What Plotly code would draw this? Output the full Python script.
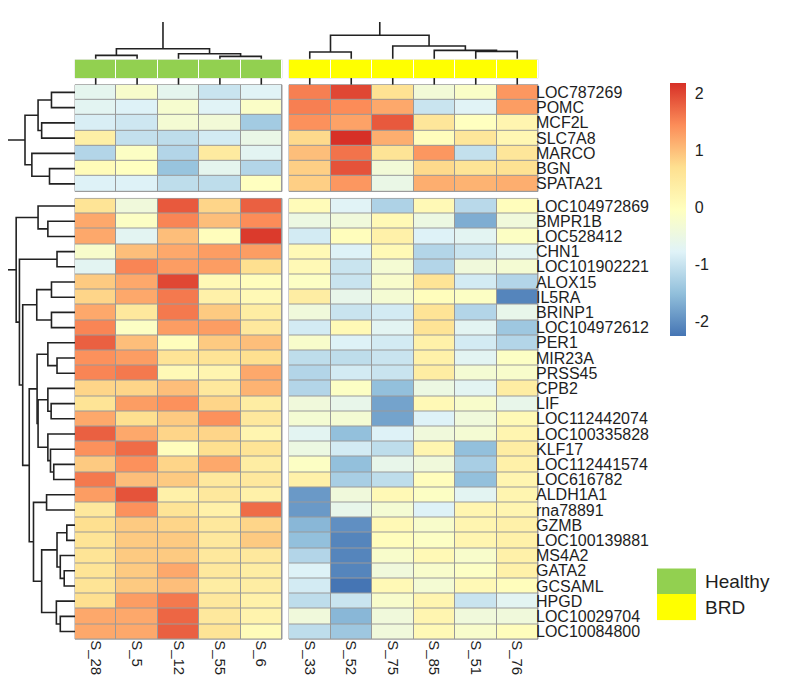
import plotly.graph_objects as go

W, H = 800, 679
FONT = "Liberation Sans, Arial, sans-serif"

# sample columns, in display order
healthy_samples = ["S_28", "S_5", "S_12", "S_55", "S_6"]
brd_samples = ["S_33", "S_52", "S_75", "S_85", "S_51", "S_76"]
group_names = ["Healthy", "BRD"]
group_colors = ["#92D050", "#FFFF00"]

# row clusters (upper block / lower block)
top_genes = ["LOC787269", "POMC", "MCF2L", "SLC7A8", "MARCO", "BGN", "SPATA21"]
bottom_genes = ["LOC104972869", "BMPR1B", "LOC528412", "CHN1", "LOC101902221",
                "ALOX15", "IL5RA", "BRINP1", "LOC104972612", "PER1", "MIR23A",
                "PRSS45", "CPB2", "LIF", "LOC112442074", "LOC100335828", "KLF17",
                "LOC112441574", "LOC616782", "ALDH1A1", "rna78891", "GZMB",
                "LOC100139881", "MS4A2", "GATA2", "GCSAML", "HPGD",
                "LOC10029704", "LOC10084800"]

# scaled expression (z-scores)
top_healthy = [
    [-0.65, -0.2, -0.65, -1.0, -0.75],
    [-0.7, -0.8, -0.25, -0.75, -0.15],
    [-0.85, -0.95, -0.3, -0.35, -1.35],
    [0.35, -1.05, -1.1, -0.9, -0.55],
    [-1.2, -0.1, -1.2, 0.45, -0.7],
    [0.05, -0.05, -1.45, -0.65, -1.2],
    [-0.8, -0.8, -1.1, -1.1, -0.05],
]
top_brd = [
    [1.55, 2.0, 0.65, -0.35, -0.15, 1.35],
    [1.55, 1.45, 1.2, -1.0, -0.75, 1.3],
    [1.4, 1.25, 1.85, 0.55, -0.05, 0.2],
    [0.75, 2.18, 1.15, 0.0, 0.55, 0.15],
    [1.0, 1.65, 0.6, 1.35, -1.05, 0.55],
    [0.85, 1.9, -0.35, 0.75, 0.6, 0.65],
    [0.85, 1.35, -0.55, 1.15, 1.1, 1.15],
]
bottom_healthy = [
    [0.6, -0.4, 1.85, 0.8, 1.8],
    [1.2, -0.1, 1.5, 1.0, 1.45],
    [1.2, -0.7, 1.0, 0.0, 2.1],
    [-0.2, 1.0, 1.2, 1.3, 1.3],
    [-0.7, 1.5, 1.3, 1.3, 0.7],
    [0.9, 1.2, 2.0, 0.1, 0.0],
    [0.8, 1.2, 1.6, 0.3, 0.1],
    [1.2, 0.5, 1.6, 0.9, 0.4],
    [1.5, -0.1, 1.3, 1.3, 0.5],
    [1.8, 1.0, 0.0, 0.9, 1.0],
    [1.4, 1.3, 0.6, 0.6, 0.7],
    [1.5, 1.6, 0.1, 0.2, 1.2],
    [0.8, 0.8, 1.0, 0.5, 1.1],
    [0.6, 1.3, 1.4, 0.8, 0.4],
    [1.2, 0.7, 0.9, 1.4, 0.5],
    [1.8, 1.2, 0.8, 0.8, 0.2],
    [1.4, 1.7, 0.0, 0.7, 0.6],
    [0.9, 1.4, 0.8, 1.2, 0.4],
    [1.6, 1.0, 0.9, 0.5, 0.5],
    [1.3, 1.9, 0.3, 0.5, 0.3],
    [0.5, 1.4, 0.6, 0.3, 1.7],
    [0.7, 0.9, 0.8, 0.5, 0.8],
    [0.6, 0.9, 0.9, 0.5, 0.9],
    [0.6, 0.9, 0.9, 0.5, 0.5],
    [0.6, 0.9, 1.2, 0.5, 0.4],
    [0.6, 0.9, 1.0, 0.4, 0.4],
    [0.7, 1.3, 1.6, 0.5, 0.3],
    [1.2, 1.2, 1.75, 0.5, 0.25],
    [1.2, 1.2, 1.8, 0.6, 0.05],
]
bottom_brd = [
    [0.05, -0.75, -1.25, 0.1, -1.15, 0.0],
    [-0.5, -0.4, 0.1, -0.5, -1.7, -0.4],
    [-0.9, 0.0, 0.3, -0.8, -0.7, -0.1],
    [0.1, -0.8, 0.1, -1.2, -1.0, -0.7],
    [0.1, -1.0, -0.3, -1.2, -0.4, -0.3],
    [-0.1, -1.0, -0.2, 0.6, -0.9, -1.2],
    [0.4, -0.6, -0.3, 0.0, -0.1, -2.1],
    [-0.4, -1.0, -0.9, 0.6, -1.2, -0.6],
    [-0.9, 0.1, -0.7, 0.6, -0.7, -1.4],
    [-0.2, -0.8, -0.9, 0.3, -0.9, -1.2],
    [-1.1, -1.1, -1.0, 0.3, -0.7, -0.1],
    [-1.2, -0.9, -1.0, 0.4, -0.3, -0.2],
    [-1.2, -0.1, -1.5, -0.5, -0.7, 0.4],
    [-0.4, -0.6, -1.8, 0.1, -0.2, -0.6],
    [-0.3, -0.3, -1.8, -0.8, -0.4, 0.1],
    [-0.7, -1.5, -0.8, -0.4, -0.3, 0.2],
    [-0.5, -0.9, -1.1, 0.2, -1.5, 0.4],
    [-0.1, -1.5, -0.6, -0.4, -1.3, 0.3],
    [0.3, -1.3, -1.1, 0.0, -1.5, 0.2],
    [-1.9, -0.4, 0.1, -0.1, -0.7, 0.2],
    [-1.9, -0.6, -0.3, -0.8, 0.2, 0.2],
    [-1.6, -2.0, 0.1, -0.2, 0.2, 0.3],
    [-1.5, -2.1, 0.0, -0.1, 0.2, 0.3],
    [-1.2, -2.1, -0.2, 0.1, -0.2, 0.3],
    [-0.8, -2.1, -0.4, -0.2, -0.1, 0.3],
    [-0.9, -2.26, 0.1, -0.3, 0.1, 0.0],
    [-1.1, -1.0, -0.2, 0.2, -1.0, -0.7],
    [-0.4, -1.6, -0.4, 0.2, -0.4, -0.4],
    [-1.1, -1.4, -0.4, 0.1, -0.2, 0.0],
]

z_min, z_max = -2.26, 2.18
cbar_ticks = [-2, -1, 0, 1, 2]

# dendrograms: leaf = index, node = [left, right, height]
healthy_tree = [[0, 1, 10], [2, [3, 4, 7], 15], 30]
brd_tree = [[0, 1, 20], [2, [3, [4, 5, 22], 25], 38], 70]
col_trunk = 110
top_row_tree = [[[0, 1, 72], [2, 3, 102], 113], [4, [5, 6, 78], 132], 153]
bottom_row_tree = [
    [0, [1, 2, 83], 113],
    [[3, 4, 55],
     [[[5, 6, 72], [7, 8, 72], 117],
      [[[9, [10, 11, 55], 83],
        [[12, [13, 14, 73], 83], [15, [16, [17, 18, 65], 75], 83], 113], 116],
       [[19, 20, 87],
        [[[21, 22, 25], [23, [24, 25, 33], 45], 55], [26, [27, 28, 45], 57], 102],
        127], 140],
      160],
     170],
    180]
row_trunk = 205

# pheatmap default palette: rev(brewer.pal(7, "RdYlBu"))
palette = ["#4575B4", "#91BFDB", "#E0F3F8", "#FFFFBF", "#FEE090", "#FC8D59", "#D73027"]
colorscale = [[i / 6, c] for i, c in enumerate(palette)]


def xd(a, b):
    return [a / W, b / W]


def yd(top, bottom):
    return [1 - bottom / H, 1 - top / H]


def walk(node, pos, hgt):
    if isinstance(node, int):
        return node, 0
    left, right, h = node
    lc, lh = walk(left, pos, hgt)
    rc, rh = walk(right, pos, hgt)
    pos += [lc, lc, rc, rc, None]
    hgt += [lh, h, h, rh, None]
    return (lc + rc) / 2, h


def tree_lines(tree, trunk):
    pos, hgt = [], []
    c, h = walk(tree, pos, hgt)
    pos += [c, c, None]
    hgt += [h, trunk, None]
    return pos, hgt


line_style = dict(color="#222222", width=1.6)
fig = go.Figure()

# main heatmap blocks
blocks = [
    (top_healthy, "x", "y"), (top_brd, "x2", "y"),
    (bottom_healthy, "x", "y2"), (bottom_brd, "x2", "y2"),
]
for z, xa, ya in blocks:
    fig.add_trace(go.Heatmap(
        z=z, x=list(range(len(z[0]))), y=list(range(len(z))),
        coloraxis="coloraxis", xgap=1, ygap=1,
        xaxis=xa, yaxis=ya, hoverinfo="skip"))

# annotation bars
for samples, gi, xa in [(healthy_samples, 0, "x"), (brd_samples, 1, "x2")]:
    fig.add_trace(go.Heatmap(
        z=[[gi] * len(samples)], x=list(range(len(samples))), y=[0],
        colorscale=[[0, group_colors[0]], [1, group_colors[1]]],
        zmin=0, zmax=1, showscale=False, xgap=1,
        xaxis=xa, yaxis="y4", hoverinfo="skip"))

# column dendrograms (leaf stubs continue below the annotation bar)
for tree, samples, xa in [(healthy_tree, healthy_samples, "x"), (brd_tree, brd_samples, "x2")]:
    pos, hgt = tree_lines(tree, col_trunk)
    for i in range(len(samples)):
        pos += [i, i, None]
        hgt += [-58, -78, None]
    fig.add_trace(go.Scatter(x=pos, y=hgt, mode="lines", line=line_style,
                             xaxis=xa, yaxis="y3", hoverinfo="skip"))

# row dendrograms
for tree, ya in [(top_row_tree, "y"), (bottom_row_tree, "y2")]:
    pos, hgt = tree_lines(tree, row_trunk)
    fig.add_trace(go.Scatter(x=hgt, y=pos, mode="lines", line=line_style,
                             xaxis="x3", yaxis=ya, hoverinfo="skip"))

# annotation legend
fig.add_trace(go.Heatmap(
    z=[[0], [1]], x=[0], y=[0, 1],
    colorscale=[[0, group_colors[0]], [1, group_colors[1]]],
    zmin=0, zmax=1, showscale=False, xaxis="x4", yaxis="y5", hoverinfo="skip"))

hidden = dict(visible=False, showgrid=False, zeroline=False)
tick_font = dict(family=FONT, size=16, color="#1e1e1e")
col_font = dict(family=FONT, size=15, color="#1e1e1e")

fig.update_layout(
    width=W, height=H,
    margin=dict(l=0, r=0, t=0, b=0),
    paper_bgcolor="white", plot_bgcolor="white",
    showlegend=False,
    coloraxis=dict(
        colorscale=colorscale, cmin=z_min, cmax=z_max,
        colorbar=dict(
            x=662 / W, xanchor="left", xpad=0,
            y=1 - 201.5 / H, yanchor="middle", ypad=0,
            len=253, lenmode="pixels", thickness=16, thicknessmode="pixels",
            outlinewidth=0, tickvals=cbar_ticks,
            ticktext=[str(t) for t in cbar_ticks],
            ticks="outside", ticklen=6, tickcolor="rgba(0,0,0,0)",
            tickfont=tick_font)),
    xaxis=dict(domain=xd(67, 274), range=[-0.5, 4.5], anchor="y2",
               tickvals=list(range(5)), ticktext=healthy_samples,
               tickangle=90, ticks="", ticklabelstandoff=0,
               showgrid=False, zeroline=False, tickfont=col_font),
    xaxis2=dict(domain=xd(281, 530), range=[-0.5, 5.5], anchor="y2",
                tickvals=list(range(6)), ticktext=brd_samples,
                tickangle=90, ticks="", ticklabelstandoff=0,
                showgrid=False, zeroline=False, tickfont=col_font),
    yaxis=dict(domain=yd(76, 183), range=[6.5, -0.5], anchor="x2", side="right",
               tickvals=list(range(7)), ticktext=top_genes, ticks="",
               ticklabelstandoff=-3, showgrid=False, zeroline=False, tickfont=tick_font),
    yaxis2=dict(domain=yd(190, 632), range=[28.5, -0.5], anchor="x2", side="right",
                tickvals=list(range(29)), ticktext=bottom_genes, ticks="",
                ticklabelstandoff=-3, showgrid=False, zeroline=False, tickfont=tick_font),
    xaxis3=dict(domain=xd(0, 67), range=[row_trunk, 0], anchor="y", **hidden),
    yaxis3=dict(domain=yd(13, 76), range=[-78, 110], anchor="x", **hidden),
    yaxis4=dict(domain=yd(50.7, 69.3), range=[-0.5, 0.5], anchor="x", **hidden),
    xaxis4=dict(domain=xd(649, 688), range=[-0.5, 0.5], anchor="y5", **hidden),
    yaxis5=dict(domain=yd(561, 613), range=[1.5, -0.5], anchor="x4", side="right",
                tickvals=[0, 1], ticktext=group_names, ticks="",
                ticklabelstandoff=8, showgrid=False, zeroline=False,
                tickfont=dict(family=FONT, size=19, color="#1e1e1e")),
)

# cell border colour shows through the heatmap gaps
for xa, ya, col in [("x", "y", "#999999"), ("x2", "y", "#999999"),
                    ("x", "y2", "#999999"), ("x2", "y2", "#999999"),
                    ("x", "y4", "#dcdcdc"), ("x2", "y4", "#dcdcdc")]:
    fig.add_shape(type="rect", xref=f"{xa} domain", yref=f"{ya} domain",
                  x0=0, x1=1, y0=0, y1=1, fillcolor=col,
                  line=dict(color=col, width=1), layer="below")

fig.write_html("out.html")
